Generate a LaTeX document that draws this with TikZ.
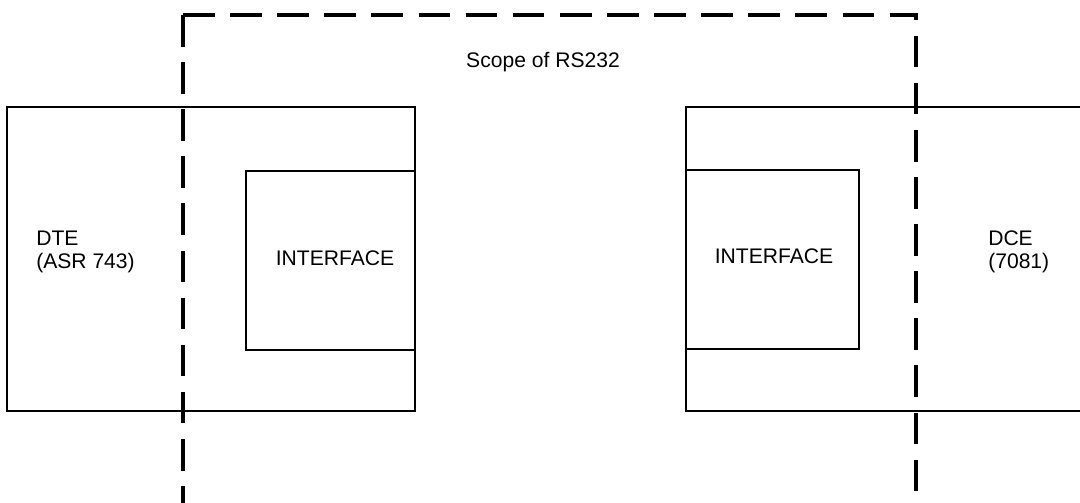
\documentclass[tikz,border=0pt]{standalone}
\usepackage{fontspec}
\setmainfont{Liberation Sans}
\usepackage{tikz}

\tikzset{
  boxline/.style={line width=1.6pt, line join=miter},
  scopeline/.style={line width=2.2pt, dash pattern=on 22.5pt off 11pt},
  lbl/.style={font=\fontsize{15}{16}\selectfont, inner sep=0pt}
}

\begin{document}
\begin{tikzpicture}[x=0.025cm, y=-0.025cm]
        % Page frame
        \clip (0,0) rectangle (1080,503);

        % DTE box with its interface
        \draw[boxline] (7,107) rectangle (415,411);
        \draw[boxline] (415,171) -- (246,171) -- (246,350) -- (415,350);
        \node[lbl, anchor=west, align=left] (dte) at (36,252) {DTE\\(ASR 743)};
        \node[lbl] (dteif) at (335,258) {INTERFACE};

        % DCE box with its interface (runs off the right edge)
        \draw[boxline] (1095,107) -- (686,107) -- (686,411) -- (1095,411);
        \draw[boxline] (686,170) -- (859,170) -- (859,349) -- (686,349);
        \node[lbl] (dceif) at (774,256) {INTERFACE};
        \node[lbl, anchor=west, align=left] (dce) at (988,252) {DCE\\(7081)};

        % Scope of RS232 (bottom edge sits just under the page)
        \coordinate (sbl) at (183,504.6);
        \coordinate (stl) at (183,15);
        \coordinate (str) at (916,15);
        \coordinate (sbr) at (916,504.6);
        \draw[scopeline] (stl) -- (sbl);
        \draw[scopeline] (stl) -- (str) -- (sbr);
        \draw[scopeline] (sbl) -- (sbr);
        \node[lbl] (scope) at (543,62) {Scope of RS232};
\end{tikzpicture}
\end{document}
